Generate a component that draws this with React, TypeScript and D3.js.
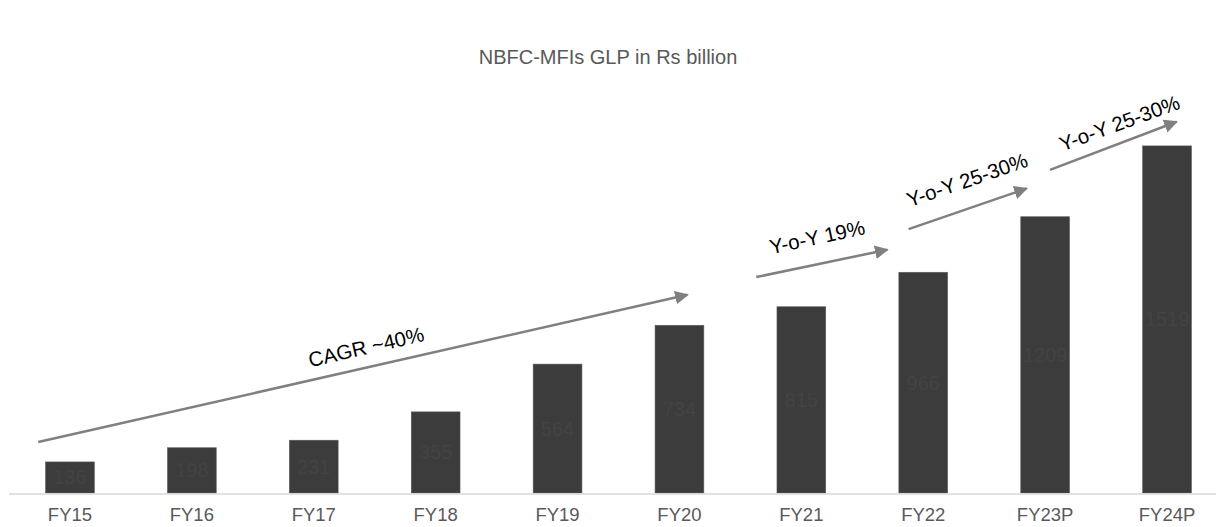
import React from "react";
import * as d3 from "d3";

const categories = ["FY15", "FY16", "FY17", "FY18", "FY19", "FY20", "FY21", "FY22", "FY23P", "FY24P"];
const values = [136, 198, 231, 355, 564, 734, 815, 966, 1209, 1519];
const title = "NBFC-MFIs GLP in Rs billion";

// Annotation arrows: positions in data space (fractional category index, value)
const arrowStartIdx = [-0.26, 5.63, 6.88, 8.04];
const arrowStartVal = [223, 945, 1155, 1414];
const arrowEndIdx = [5.13, 6.77, 7.91, 9.14];
const arrowEndVal = [875, 1072, 1344, 1637];
const arrowLabels = ["CAGR ~40%", "Y-o-Y 19%", "Y-o-Y 25-30%", "Y-o-Y 25-30%"];
const labelIdx = [2.43, 6.13, 7.36, 8.61];
const labelVal = [639, 1120, 1370, 1619];
const labelAngle = [-13, -12, -19, -20];

const W = 1216;
const H = 527;
const FONT = "'Liberation Sans', Arial, sans-serif";

export default function App() {
  const x = d3.scaleBand<string>().domain(categories).range([9, 1228]).paddingInner(0.6).paddingOuter(0.3);
  const y = d3.scaleLinear().domain([0, 1600]).range([493, 127.4]);
  const step = x.step();
  const xi = (i: number) => (x(categories[0]) as number) + x.bandwidth() / 2 + i * step;

  return (
    <svg width={W} height={H} style={{ position: "absolute", left: 0, top: 0, background: "#fff" }}>
      <defs>
        <marker id="ah" viewBox="0 0 10 10" refX="9" refY="5" markerWidth="5.5" markerHeight="5.5" orient="auto" markerUnits="strokeWidth">
          <path d="M0,0 L10,5 L0,10 z" fill="#808080" />
        </marker>
      </defs>
      <text x={608} y={57} dy="0.35em" textAnchor="middle" fontFamily={FONT} fontSize={20} fill="#595959">{title}</text>
      {categories.map((c, i) => (
        <g key={c}>
          <rect x={x(c)} y={y(values[i])} width={x.bandwidth()} height={y(0) - y(values[i])} fill="#3c3c3c" stroke="#5a5a5a" strokeWidth={0.6} />
          <text x={(x(c) as number) + x.bandwidth() / 2} y={(y(values[i]) + y(0)) / 2} dy="0.35em" textAnchor="middle" fontFamily={FONT} fontSize={20} fill="#434343">{values[i]}</text>
          <text x={(x(c) as number) + x.bandwidth() / 2} y={515} dy="0.35em" textAnchor="middle" fontFamily={FONT} fontSize={18.5} fill="#595959">{c}</text>
        </g>
      ))}
      <line x1={9} x2={1228} y1={494} y2={494} stroke="#d9d9d9" strokeWidth={1.5} />
      {arrowLabels.map((lab, k) => {
        const x1 = xi(arrowStartIdx[k]);
        const y1 = y(arrowStartVal[k]);
        const x2 = xi(arrowEndIdx[k]);
        const y2 = y(arrowEndVal[k]);
        const a = Math.atan2(y2 - y1, x2 - x1);
        return (
          <g key={k}>
            <line x1={x1} y1={y1} x2={x2 - 8 * Math.cos(a)} y2={y2 - 8 * Math.sin(a)} stroke="#808080" strokeWidth={2.5} markerEnd="url(#ah)" />
            <text transform={`translate(${xi(labelIdx[k])},${y(labelVal[k])}) rotate(${labelAngle[k]})`} dy="0.35em" textAnchor="middle" fontFamily={FONT} fontSize={20.5} fill="#000">{lab}</text>
          </g>
        );
      })}
    </svg>
  );
}
